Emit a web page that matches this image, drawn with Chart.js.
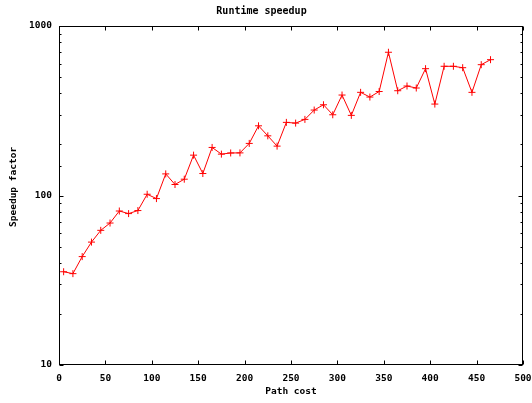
<!DOCTYPE html>
<html>
<head>
<meta charset="utf-8">
<title>Runtime speedup</title>
<script src="https://cdn.jsdelivr.net/npm/chart.js@4.4.1/dist/chart.umd.min.js"></script>
<style>
  html, body { margin: 0; padding: 0; background: #fff; }
  #wrap { width: 532px; height: 403px; position: relative; }
</style>
</head>
<body>
<div id="wrap"><canvas id="chart"></canvas></div>
<script>
/* Runtime speedup vs path cost, gnuplot-style log plot */

// values
const pathCost = [5, 15, 25, 35, 45, 55, 65, 75, 85, 95,
  105, 115, 125, 135, 145, 155, 165, 175, 185, 195,
  205, 215, 225, 235, 245, 255, 265, 275, 285, 295,
  305, 315, 325, 335, 345, 355, 365, 375, 385, 395,
  405, 415, 425, 435, 445, 455, 465];
const speedup = [35.5, 34.6, 43.6, 53.1, 62.3, 68.8, 81.0, 78.2, 81.5, 101.7,
  95.9, 134.1, 116.1, 124.8, 173.0, 134.8, 192.1, 175.4, 178.2, 178.4,
  202.9, 257.7, 224.9, 195.6, 270.0, 267.4, 281.2, 319.2, 343.0, 299.5,
  391.5, 297.0, 406.1, 380.9, 410.6, 700.0, 415.1, 442.5, 430.7, 560.0,
  346.3, 578.5, 578.5, 567.5, 406.0, 591.3, 632.9];
const xTicks = [0, 50, 100, 150, 200, 250, 300, 350, 400, 450, 500];
const yTicks = [10, 100, 1000];

const FONT = 'DejaVu Sans Mono';
const tickFont = { family: FONT, size: 9.5, weight: 'bold', lineHeight: 1.2 };

/* Marco cerrado y marcas hacia dentro (espejadas arriba y a la derecha) */
const gnuplotFrame = {
  id: 'gnuplotFrame',
  beforeDatasetsDraw(chart) {
    const { ctx, chartArea: a, scales: { x, y } } = chart;
    const L = Math.round(a.left) + 0.5, R = Math.round(a.right) - 0.5;
    const T = Math.round(a.top) + 0.5, B = Math.round(a.bottom) - 0.5;
    ctx.save();
    ctx.strokeStyle = '#000';
    ctx.lineWidth = 1;
    ctx.beginPath();
    x.ticks.forEach((t) => {
      const px = Math.round(x.getPixelForValue(t.value)) + 0.5;
      ctx.moveTo(px, B); ctx.lineTo(px, B - 4);
      ctx.moveTo(px, T); ctx.lineTo(px, T + 4);
    });
    y.ticks.forEach((t) => {
      const len = yTicks.includes(t.value) ? 4 : 2;
      const py = Math.round(y.getPixelForValue(t.value)) + 0.5;
      ctx.moveTo(L, py); ctx.lineTo(L + len, py);
      ctx.moveTo(R, py); ctx.lineTo(R - len, py);
    });
    ctx.stroke();
    ctx.strokeRect(L, T, R - L, B - T);
    ctx.restore();
  },
};

new Chart(document.getElementById('chart'), {
  type: 'line',
  data: {
    datasets: [{
      data: pathCost.map((c, i) => ({ x: c, y: speedup[i] })),
      borderColor: '#ff0000',
      borderWidth: 1,
      pointStyle: 'cross',
      pointRadius: 3.5,
      pointBorderWidth: 1,
      pointBorderColor: '#ff0000',
      pointBackgroundColor: '#ff0000',
      tension: 0,
      fill: false,
    }],
  },
  options: {
    responsive: true, maintainAspectRatio: false, animation: false,
    layout: { padding: { left: 0, right: 9, top: 0, bottom: 0 } },
    plugins: {
      legend: { display: false },
      tooltip: { enabled: false },
      title: {
        display: true, text: 'Runtime speedup', color: '#000',
        font: { family: FONT, size: 10, weight: 'bold', lineHeight: 1.2 },
        padding: { top: 5, bottom: 9 },
      },
    },
    scales: {
      x: {
        type: 'linear', min: 0, max: 500,
        grid: { display: false, drawTicks: false }, border: { display: false },
        afterBuildTicks: (s) => { s.ticks = xTicks.map((v) => ({ value: v })); },
        ticks: { autoSkip: false, maxRotation: 0, padding: 8, color: '#000', font: tickFont },
        title: { display: true, text: 'Path cost', color: '#000', font: tickFont, padding: { bottom: 6 } },
        afterFit: (s) => { s.height = 38; s.paddingLeft = 0; s.paddingRight = 0; },
      },
      y: {
        type: 'logarithmic', min: 10, max: 1000,
        grid: { display: false, drawTicks: false }, border: { display: false },
        ticks: {
          autoSkip: false, padding: 7, color: '#000', font: tickFont,
          callback: (v) => (yTicks.includes(v) ? String(v) : ''),
        },
        title: { display: true, text: '   Speedup factor', color: '#000', font: tickFont, padding: { top: 7.5 } },
        afterFit: (s) => { s.width = 59; },
      },
    },
  },
  plugins: [gnuplotFrame],
});
</script>
</body>
</html>
